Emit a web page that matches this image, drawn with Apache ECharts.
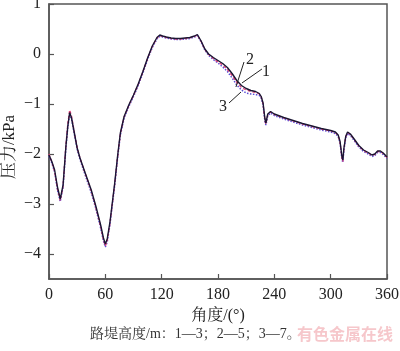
<!DOCTYPE html>
<html><head><meta charset="utf-8">
<script src="https://cdn.jsdelivr.net/npm/echarts@6/dist/echarts.min.js"></script>
<style>html,body{margin:0;padding:0;background:#fff}#c{width:400px;height:351px}</style>
</head><body><div id="c"></div>
<script>
const angles = [0,3,6,9,12,13,15,18,20,22,24,27,30,33,38,45,50,55,58,60,62,65,70,73,76,80,85,90,95,100,105,110,115,118,121,125,130,135,140,145,150,155,158,162,166,170,175,180,185,190,195,200,205,210,215,220,224,226,228,230,231,233,236,240,250,260,270,280,290,300,305,308,310,312,313,314,316,318,321,325,330,335,340,344,347,350,353,356,360];
const s1 = [-2.02,-2.15,-2.32,-2.66,-2.90,-2.92,-2.62,-1.85,-1.45,-1.17,
-1.28,-1.58,-1.88,-2.08,-2.35,-2.72,-3.05,-3.42,-3.68,-3.80,
-3.70,-3.35,-2.58,-2.05,-1.58,-1.25,-1.02,-0.82,-0.60,-0.35,
-0.08,0.16,0.33,0.38,0.36,0.34,0.32,0.31,0.31,0.32,
0.33,0.36,0.39,0.26,0.10,0.00,-0.07,-0.13,-0.19,-0.27,
-0.39,-0.53,-0.63,-0.69,-0.73,-0.75,-0.79,-0.85,-0.98,-1.30,
-1.38,-1.20,-1.15,-1.20,-1.27,-1.33,-1.39,-1.44,-1.49,-1.53,
-1.56,-1.62,-1.75,-2.05,-2.12,-1.90,-1.65,-1.56,-1.60,-1.70,
-1.83,-1.92,-1.97,-2.02,-2.00,-1.94,-1.94,-1.98,-2.06];
const s2 = [-2.00,-2.16,-2.35,-2.70,-2.93,-2.95,-2.64,-1.82,-1.40,-1.12,
-1.24,-1.56,-1.87,-2.08,-2.36,-2.74,-3.08,-3.45,-3.72,-3.84,
-3.74,-3.38,-2.60,-2.07,-1.60,-1.26,-1.03,-0.83,-0.61,-0.36,
-0.09,0.15,0.32,0.37,0.35,0.33,0.31,0.30,0.30,0.31,
0.32,0.35,0.38,0.25,0.09,-0.01,-0.09,-0.16,-0.22,-0.31,
-0.43,-0.57,-0.67,-0.72,-0.75,-0.77,-0.80,-0.86,-1.00,-1.33,
-1.40,-1.22,-1.16,-1.21,-1.28,-1.34,-1.40,-1.45,-1.50,-1.54,
-1.57,-1.63,-1.77,-2.08,-2.15,-1.92,-1.66,-1.57,-1.61,-1.71,
-1.84,-1.93,-1.98,-2.03,-2.01,-1.95,-1.95,-1.99,-2.07];
const s3 = [-2.04,-2.18,-2.36,-2.72,-2.95,-2.97,-2.66,-1.88,-1.47,-1.20,
-1.30,-1.60,-1.90,-2.11,-2.39,-2.77,-3.10,-3.48,-3.74,-3.86,
-3.76,-3.40,-2.62,-2.09,-1.62,-1.28,-1.05,-0.85,-0.63,-0.38,
-0.11,0.13,0.30,0.35,0.34,0.32,0.30,0.29,0.29,0.30,
0.31,0.34,0.37,0.24,0.08,-0.03,-0.11,-0.18,-0.26,-0.35,
-0.48,-0.62,-0.72,-0.78,-0.80,-0.81,-0.83,-0.88,-1.02,-1.35,
-1.42,-1.24,-1.18,-1.23,-1.30,-1.36,-1.42,-1.47,-1.52,-1.56,
-1.59,-1.65,-1.78,-2.10,-2.17,-1.94,-1.68,-1.59,-1.63,-1.73,
-1.86,-1.95,-2.00,-2.05,-2.03,-1.97,-1.97,-2.01,-2.09];
const yTicks = [-4,-3,-2,-1,0,1];
const seriesNames = ['1','2','3'];
// annotation anchors in data coordinates: [label, lineStart, lineEnd, textPos]
const notes = [
  ['2',[199.1,-0.66],[207.7,-0.16],[214.1,-0.12]],
  ['1',[205.5,-0.58],[226.8,-0.30],[231.1,-0.36]],
  ['3',[191.7,-0.98],[204.5,-0.76],[185.3,-1.06]]
];

const chart = echarts.init(document.getElementById('c'), null, {renderer:'canvas'});
const serif = "'Liberation Serif','Noto Serif CJK SC','Noto Sans CJK SC',serif";
const axisColor = '#555';
function pairs(v){ return angles.map((a,i)=>[a,v[i]]); }
const opt = {
  animation:false,
  grid:{left:49,right:13,top:4,bottom:72,show:true,borderColor:axisColor,borderWidth:1.5,
    backgroundColor:'transparent',containLabel:false,outerBoundsMode:'none'},
  xAxis:{type:'value',min:0,max:360,interval:60,
    name:'角度/(°)',nameLocation:'middle',nameGap:26,
    nameTextStyle:{fontFamily:serif,fontSize:16,color:'#222'},
    axisLine:{onZero:false,lineStyle:{color:axisColor,width:1.5}},
    axisTick:{inside:true,length:5,lineStyle:{color:axisColor,width:1.2}},
    axisLabel:{fontFamily:serif,fontSize:16,color:'#222',margin:8},
    splitLine:{show:false}},
  yAxis:{type:'value',min:-4.5,max:1,
    axisLine:{onZero:false,lineStyle:{color:axisColor,width:1.5}},
    axisTick:{inside:true,length:5,customValues:yTicks,lineStyle:{color:axisColor,width:1.2}},
    axisLabel:{fontFamily:serif,fontSize:16,color:'#222',margin:8,customValues:yTicks,
      formatter:v=>String(v).replace('-','−')},
    splitLine:{show:false}},
  series:[
    {name:seriesNames[2],type:'line',data:pairs(s3),showSymbol:false,z:2,
      lineStyle:{color:'#5b4fd6',width:1.5,type:'dotted'}},
    {name:seriesNames[1],type:'line',data:pairs(s2),showSymbol:false,z:3,
      lineStyle:{color:'#e0407a',width:1.3,type:[3,2]}},
    {name:seriesNames[0],type:'line',data:pairs(s1),showSymbol:false,z:4,
      lineStyle:{color:'#1b1633',width:1.4}}
  ]
};
chart.setOption(opt);
const g = [];
notes.forEach(n=>{
  const p1 = chart.convertToPixel({gridIndex:0}, n[1]);
  const p2 = chart.convertToPixel({gridIndex:0}, n[2]);
  const pt = chart.convertToPixel({gridIndex:0}, n[3]);
  g.push({type:'line',shape:{x1:p1[0],y1:p1[1],x2:p2[0],y2:p2[1]},style:{stroke:'#222',lineWidth:1},z:10});
  g.push({type:'text',x:pt[0],y:pt[1],style:{text:n[0],fontFamily:serif,fontSize:16,fill:'#222',align:'center',verticalAlign:'middle'},z:10});
});
g.push({type:'text',x:10,y:147,rotation:Math.PI/2,style:{text:'压力/kPa',fontFamily:serif,fontSize:17,fill:'#222',align:'center',verticalAlign:'middle'},z:10});
g.push({type:'text',left:90,top:327,style:{text:'路堤高度/m：1—3；2—5；3—7。',fontFamily:serif,fontSize:14,fill:'#333'},z:10});
g.push({type:'text',left:297,top:326,style:{text:'有色金属在线',fontFamily:"'Noto Sans CJK SC',sans-serif",fontSize:16,fontWeight:'bold',fill:'rgba(235,130,140,0.45)'},z:11});
chart.setOption({graphic:g});
</script></body></html>
